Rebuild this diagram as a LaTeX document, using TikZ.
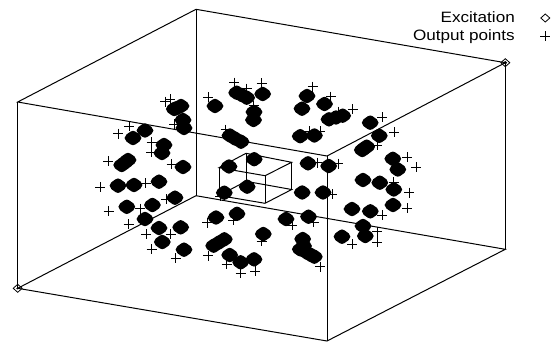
\documentclass[tikz,border=0pt]{standalone}
\usepackage{fontspec}
\setmainfont{Liberation Sans}
\newfontfamily\lgdfont[FakeStretch=1.14]{Liberation Sans}
\tikzset{
  edgeline/.style={draw=black,line width=1pt},
  innerline/.style={draw=black,line width=1pt},
  crossmark/.style={draw=black,line width=0.75pt},
  blobmark/.style={fill=black,draw=black,line width=8.4pt,line join=round},
  excmark/.style={draw=black,line width=0.8pt},
  lgdtext/.style={anchor=base east,inner sep=0pt,font=\lgdfont\fontsize{15pt}{16pt}\selectfont,text=black}
}
\newcommand{\crossat}[2]{\draw[crossmark] (#1-5,#2) -- (#1+5,#2) (#1,#2-5) -- (#1,#2+5);}
\newcommand{\blobat}[2]{\path[blobmark] (#1-4.2,#2) -- (#1,#2-3) -- (#1+4.2,#2) -- (#1,#2+3) -- cycle;}
\newcommand{\excat}[2]{\draw[excmark] (#1-4.5,#2) -- (#1,#2-4) -- (#1+4.5,#2) -- (#1,#2+4) -- cycle;}
\begin{document}
\begin{tikzpicture}[x=1pt,y=-1pt]
\useasboundingbox (0,0) rectangle (554,341);
% outer box
\coordinate (bt) at (196,9.3);
\coordinate (lt) at (17.7,102);
\coordinate (rt) at (505.3,62.7);
\coordinate (ft) at (327,156);
\coordinate (bb) at (196,195.7);
\coordinate (lb) at (17.7,288.3);
\coordinate (rb) at (505.3,249.3);
\coordinate (fb) at (327,341);
\draw[edgeline] (lt) -- (bt) -- (rt) -- (ft) -- cycle;
\draw[edgeline] (lb) -- (bb) -- (rb) -- (fb) -- cycle;
\draw[edgeline] (lt) -- (lb) (bt) -- (bb) (rt) -- (rb) (ft) -- (fb);
% inner box
\coordinate (ibt) at (246,153.3);
\coordinate (ilt) at (219,167.7);
\coordinate (irt) at (291.7,162.3);
\coordinate (ift) at (265,175.7);
\coordinate (ibb) at (246,181.3);
\coordinate (ilb) at (219,195.5);
\coordinate (irb) at (291.7,189.5);
\coordinate (ifb) at (265,203.3);
\draw[innerline] (ilt) -- (ibt) -- (irt) -- (ift) -- cycle;
\draw[innerline] (ilb) -- (ibb) -- (irb) -- (ifb) -- cycle;
\draw[innerline] (ilt) -- (ilb) (ibt) -- (ibb) (irt) -- (irb) (ift) -- (ifb);
% output points
\foreach \p/\q in {234/82.7,246.7/88.5,261.5/83.3,208.3/97.3,170/99,165/101.7,174/124,253.5/105.5,
 225.5/129.5,129/126,118/133.5,151.7/142,151/152,108/161,171.7/164.3,100.3/187,145.5/183,166/199,
 140/208.5,108.7/211,128.7/224,146/234.3,170.5/234.2,151.7/249.3,175.5/258.3,207/222.5,261.7/241,
 208.3/255.7,226.7/264.3,240.7/273,255.2/271,220/196,233.3/220,
 312.7/86.5,330.5/96.5,338/111.7,352.5/109,382.3/117.3,394/132,377.2/145.2,309/131,320.3/131,
 317/162.7,338/163.5,407/157,416.2/167,393.7/182.3,409.3/192.7,407/208.3,382.3/215.2,
 377/231.5,377/242.3,352.3/244.2,320/266.7,292/225.3,313.5/222.3,332/194}
  {\crossat{\p}{\q}}
% blobs
\foreach \p/\q in {174.3/109,181/106,177/108,183/120,184/128,215/106,236.7/92.7,241.7/95,246.7/97.7,262.7/94,
 254/112,253.5/120,145/130.5,133/138,164/145,162/153,121.7/165,125/162.5,128/160,183/167,
 230/135.5,235/138.5,241/141.7,254.2/159.2,229/166.5,118/185.7,134/185,159/181.7,175/197.7,
 126.8/206.8,152.4/205,145/219,159/228,180.7/227.3,162.3/242,184/249.7,216/217.5,237/213.8,
 263.3/234,224.3/239.3,213.7/245.7,219/242.5,229.7/255,240.7/262.3,254/259.3,224.3/192.7,247.2/186.7,
 286/219,308.5/216.7,302.7/239,300.3/249.3,307/252.7,314.3/256.7,303.5/246,311/255,342/236.7,
 363/226,365.3/236,352/209,370.3/211.3,393/205,393.8/189.5,379.8/182.7,363/180,397.8/169.5,
 302.2/192.5,323/192.5,328.7/166,307/96,302/108.7,324.5/104,329/119.3,342.7/115.7,336/117.5,
 370.2/122.7,379.3/135.8,362.3/150,364.3/148.3,366.7/146.7,300.2/136.2,314.4/135.5,308/163.3,392.8/158.8}
  {\blobat{\p}{\q}}
% excitation markers
\excat{505.3}{62.7}
\excat{17.7}{288.3}
\fill[black] (505.3,62.7) circle (1.8pt);
\fill[black] (17.7,288.3) circle (1.2pt);
% legend
\node[lgdtext] (excitationlabel) at (515,22.7) {Excitation};
\node[lgdtext] (outputlabel) at (515,40.7) {Output points};
\excat{545.3}{18}
\crossat{545.3}{36}
\end{tikzpicture}
\end{document}
